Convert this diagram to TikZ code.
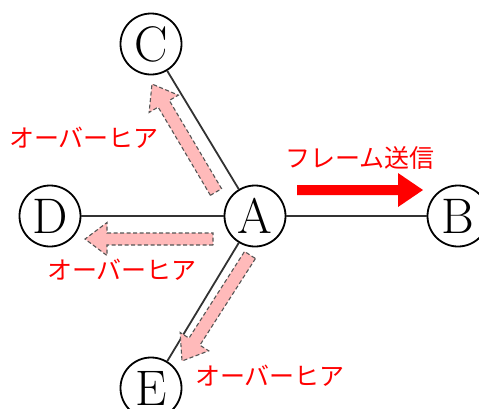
\documentclass[tikz,border=0pt]{standalone}
\usepackage{fontspec}
\newfontfamily\jp{Noto Sans CJK JP}
\usetikzlibrary{calc}
\definecolor{pinkfill}{RGB}{255,186,186}
\definecolor{edgegray}{RGB}{50,50,50}
\definecolor{dashgray}{RGB}{85,85,85}
\tikzset{
  vertex/.style={circle, draw=black, line width=1.8pt, minimum size=61pt, inner sep=0pt, fill=white, font=\fontsize{50}{50}\selectfont},
  link/.style={draw=edgegray, line width=1.8pt},
  lbl/.style={text=red, font=\jp\fontsize{25}{25}\selectfont, inner sep=0pt},
  pinkarrow/.style={fill=pinkfill, draw=dashgray, line width=1.1pt, dash pattern=on 4pt off 2.5pt},
  redarrow/.style={fill=red, draw=none},
}
% block arrow: #1 style, #2 start, #3 tip, #4 shaft half-width, #5 head half-width, #6 head length
\newcommand\blockarrow[6]{%
  \path[#1]
    ($(#2)!#4!90:(#3)$) --
    ($($(#3)!#6!(#2)$)!#4!-90:(#2)$) --
    ($($(#3)!#6!(#2)$)!#5!-90:(#2)$) --
    (#3) --
    ($($(#3)!#6!(#2)$)!#5!90:(#2)$) --
    ($($(#3)!#6!(#2)$)!#4!90:(#2)$) --
    ($(#2)!#4!-90:(#3)$) -- cycle;}
\begin{document}
\begin{tikzpicture}[x=1pt, y=-1pt]
\useasboundingbox (0,0) rectangle (479,408);
% nodes
\node[vertex] (A) at (255,216) {A};
\node[vertex] (B) at (458,216) {B};
\node[vertex] (C) at (151,44) {C};
\node[vertex] (D) at (50,216) {D};
\node[vertex] (E) at (151,388) {E};
% links
\draw[link] (A) -- (B);
\draw[link] (A) -- (C);
\draw[link] (A) -- (D);
\draw[link] (A) -- (E);
% arrow anchors
\coordinate (fs) at (297,190);
\coordinate (ft) at (423,190);
\coordinate (cs) at (216,192);
\coordinate (ct) at (152,84);
\coordinate (ds) at (213,239);
\coordinate (dt) at (85,239);
\coordinate (es) at (250,255);
\coordinate (et) at (182,361);
\blockarrow{redarrow}{fs}{ft}{5pt}{17pt}{25pt}
\blockarrow{pinkarrow}{cs}{ct}{6.5pt}{17pt}{23pt}
\blockarrow{pinkarrow}{ds}{dt}{6pt}{16.5pt}{22pt}
\blockarrow{pinkarrow}{es}{et}{6.5pt}{17pt}{23pt}
% labels
\node[lbl, anchor=west] (l1) at (9,138) {オーバーヒア};
\node[lbl, anchor=west] (l2) at (47,270) {オーバーヒア};
\node[lbl, anchor=west] (l3) at (195,376) {オーバーヒア};
\node[lbl, anchor=west] (l4) at (285,158) {フレーム送信};
\end{tikzpicture}
\end{document}
